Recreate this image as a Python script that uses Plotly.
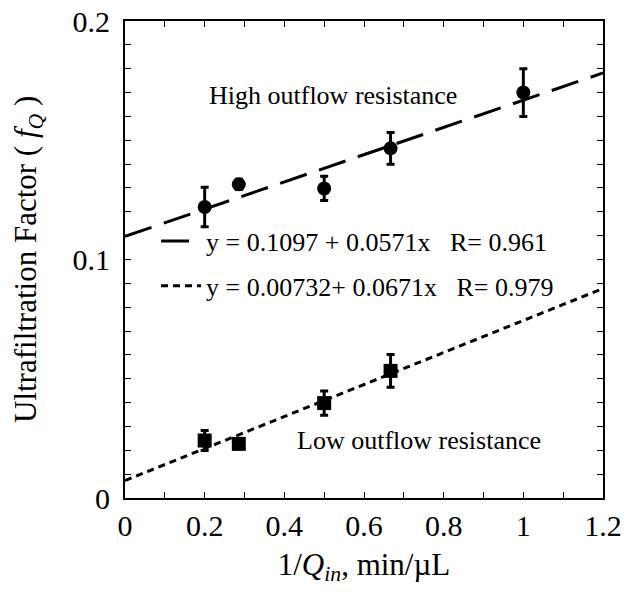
import plotly.graph_objects as go

# ---- data ----
x_high = [0.2, 0.2857, 0.5, 0.6667, 1.0]
y_high = [0.122, 0.1315, 0.1298, 0.1466, 0.170]
err_high = [0.0083, 0.0022, 0.0051, 0.0067, 0.010]

x_low = [0.2, 0.2857, 0.5, 0.6667]
y_low = [0.0241, 0.0227, 0.0398, 0.0533]
err_low = [0.0042, 0.0020, 0.0051, 0.0069]

fit_high_intercept, fit_high_slope = 0.1097, 0.0571
fit_low_intercept, fit_low_slope = 0.00732, 0.0671
fit_x = [0.0, 1.2]

fit_high_label = "y = 0.1097 + 0.0571x\u00a0\u00a0\u00a0R= 0.961"
fit_low_label = "y = 0.00732+ 0.0671x\u00a0\u00a0\u00a0R= 0.979"

x_tickvals = [0, 0.1, 0.2, 0.3, 0.4, 0.5, 0.6, 0.7, 0.8, 0.9, 1.0, 1.1, 1.2]
x_ticktext = ["0", "", "0.2", "", "0.4", "", "0.6", "", "0.8", "", "1", "", "1.2"]
y_tickvals = [i / 100 for i in range(0, 21)]
y_ticktext = ["0" if i == 0 else ("0.1" if i == 10 else ("0.2" if i == 20 else "")) for i in range(0, 21)]

FONT = "Liberation Serif, Times New Roman, serif"

fig = go.Figure()

fig.add_trace(go.Scatter(
    x=fit_x, y=[fit_high_intercept + fit_high_slope * v for v in fit_x],
    mode="lines", name=fit_high_label, legendgroup="a",
    line=dict(color="black", width=3, dash="28px,13px"),
))
fig.add_trace(go.Scatter(
    x=fit_x, y=[fit_low_intercept + fit_low_slope * v for v in fit_x],
    mode="lines", name=fit_low_label, legendgroup="b",
    line=dict(color="black", width=3, dash="7px,5px"),
))
fig.add_trace(go.Scatter(
    x=x_high, y=y_high, mode="markers", showlegend=False,
    marker=dict(symbol="circle", size=14, color="black"),
    error_y=dict(type="data", array=err_high, color="black", thickness=3, width=4),
))
fig.add_trace(go.Scatter(
    x=x_low, y=y_low, mode="markers", showlegend=False,
    marker=dict(symbol="square", size=14, color="black"),
    error_y=dict(type="data", array=err_low, color="black", thickness=3, width=4),
))

axis_common = dict(
    showline=True, linecolor="black", linewidth=2, mirror="allticks",
    ticks="inside", ticklen=6, tickwidth=1, tickcolor="black",
    showgrid=False, zeroline=False, automargin=False,
    tickfont=dict(family=FONT, size=30, color="black"),
)

fig.update_xaxes(
    range=[0, 1.2], tickmode="array", tickvals=x_tickvals, ticktext=x_ticktext,
    title=dict(text="1/<i>Q</i><sub><i>in</i></sub>, min/\u00b5L",
               font=dict(family=FONT, size=31, color="black"), standoff=12),
    ticklabelstandoff=0,
    **axis_common,
)
fig.update_yaxes(
    range=[0, 0.2], tickmode="array", tickvals=y_tickvals, ticktext=y_ticktext,
    ticklabelstandoff=7,
    **axis_common,
)

fig.add_annotation(
    text="Ultrafiltration Factor ( <i>f</i><sub><i>Q</i></sub> )",
    xref="paper", yref="paper", x=-0.25, y=0.5, textangle=-90,
    showarrow=False, font=dict(family=FONT, size=31, color="black"),
)
fig.add_annotation(
    text="High outflow resistance", xref="x", yref="y", x=0.521, y=0.1689,
    showarrow=False, font=dict(family=FONT, size=26, color="black"),
)
fig.add_annotation(
    text="Low outflow resistance", xref="x", yref="y", x=0.738, y=0.0241,
    showarrow=False, font=dict(family=FONT, size=26, color="black"),
)

fig.update_layout(
    width=629, height=607,
    margin=dict(l=125, r=26, t=21, b=109),
    paper_bgcolor="white", plot_bgcolor="white",
    legend=dict(
        x=0.065, y=0.588, xanchor="left", yanchor="top",
        bgcolor="rgba(0,0,0,0)", borderwidth=0,
        font=dict(family=FONT, size=26, color="black"),
        tracegroupgap=8, traceorder="grouped", itemwidth=40,
    ),
    showlegend=True,
)

fig.write_html("out.html", config={"displayModeBar": False},
               post_script="document.body.style.margin='0';")
